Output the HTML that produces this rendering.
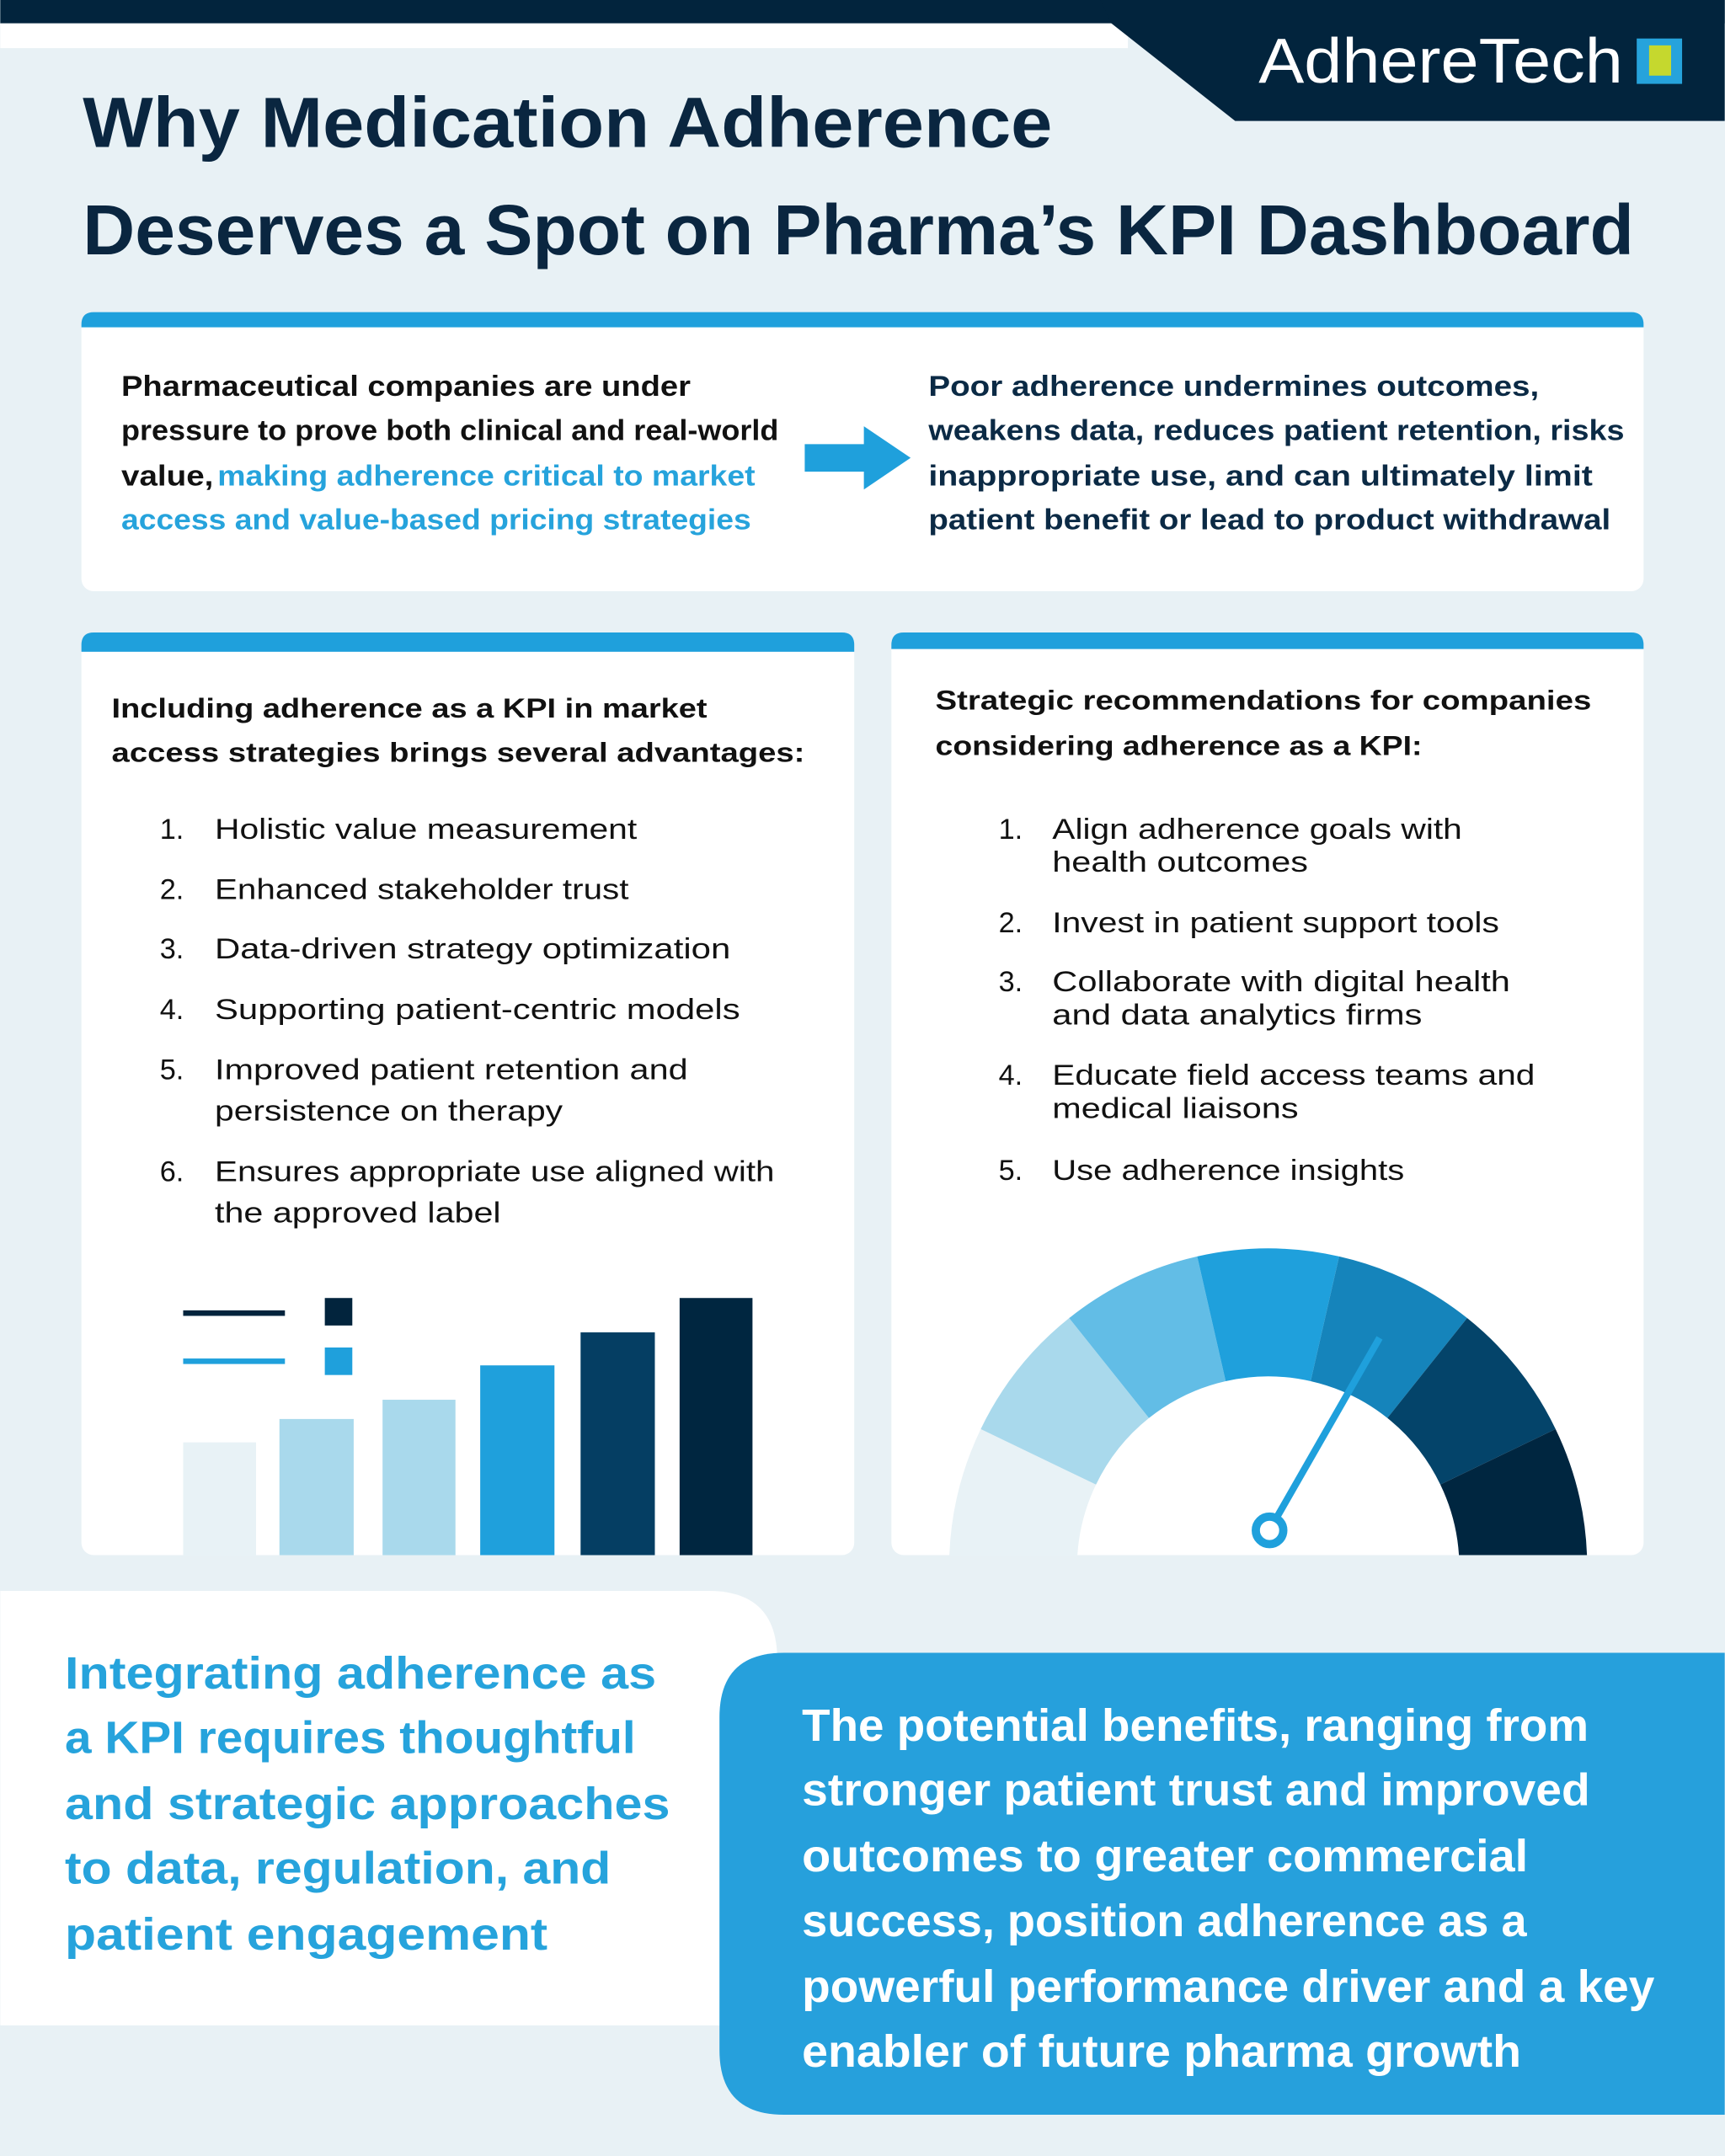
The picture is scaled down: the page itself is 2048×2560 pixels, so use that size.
<!DOCTYPE html>
<html><head><meta charset="utf-8"><style>
html,body{margin:0;padding:0;background:#e8f1f5}
svg{display:block}
text{font-family:"Liberation Sans",Arial,sans-serif}
.t{font-weight:bold;font-size:52px;fill:#0a2640}
.b{font-weight:bold;font-size:21px;fill:#111}
.bb{font-weight:bold;font-size:21px;fill:#0b2a45}
.bl{font-weight:bold;font-size:21px;fill:#26a3dc}
.h{font-weight:bold;font-size:20px;fill:#111}
.l{font-size:21px;fill:#111}
.big{font-weight:bold;font-size:33px}
</style></head><body>
<svg width="2048" height="2560" viewBox="0 0 1254 1568" xmlns="http://www.w3.org/2000/svg">
<rect width="1254" height="1568" fill="#e8f1f5"/>
<rect x="0" y="0" width="1254" height="17" fill="#02243d"/>
<rect x="0" y="17" width="820" height="18" fill="#ffffff"/>
<polygon points="808,17 898,88 1254,88 1254,0 800,0" fill="#02243d"/>
<text x="915" y="60" font-size="46" fill="#fff" textLength="265" lengthAdjust="spacingAndGlyphs">AdhereTech</text>
<rect x="1190" y="28" width="33" height="33" fill="#26a3dc"/>
<rect x="1199" y="33" width="16" height="22" fill="#c5d82e"/>

<text class="t" x="60" y="107" textLength="705" lengthAdjust="spacingAndGlyphs">Why Medication Adherence</text>
<text class="t" x="60" y="185" textLength="1128" lengthAdjust="spacingAndGlyphs">Deserves a Spot on Pharma’s KPI Dashboard</text>

<!-- card 1 -->
<rect x="59" y="227" width="1136" height="203" rx="9" fill="#fff"/>
<path d="M59 238 V236 Q59 227 68 227 H1186 Q1195 227 1195 236 V238 Z" fill="#1fa0dc"/>
<text class="b" x="88" y="288" textLength="414" lengthAdjust="spacingAndGlyphs">Pharmaceutical companies are under</text>
<text class="b" x="88" y="320" textLength="478" lengthAdjust="spacingAndGlyphs">pressure to prove both clinical and real-world</text>
<text class="b" x="88" y="353" textLength="67" lengthAdjust="spacingAndGlyphs">value,</text>
<text class="bl" x="158" y="353" textLength="391" lengthAdjust="spacingAndGlyphs">making adherence critical to market</text>
<text class="bl" x="88" y="385" textLength="458" lengthAdjust="spacingAndGlyphs">access and value-based pricing strategies</text>
<polygon points="585,323 628,323 628,310 662,333 628,356 628,343 585,343" fill="#1fa0dc"/>
<text class="bb" x="675" y="288" textLength="444" lengthAdjust="spacingAndGlyphs">Poor adherence undermines outcomes,</text>
<text class="bb" x="675" y="320" textLength="506" lengthAdjust="spacingAndGlyphs">weakens data, reduces patient retention, risks</text>
<text class="bb" x="675" y="353" textLength="483" lengthAdjust="spacingAndGlyphs">inappropriate use, and can ultimately limit</text>
<text class="bb" x="675" y="385" textLength="496" lengthAdjust="spacingAndGlyphs">patient benefit or lead to product withdrawal</text>

<!-- card 2 -->
<rect x="59" y="460" width="562" height="671" rx="9" fill="#fff"/>
<path d="M59 474 V469 Q59 460 68 460 H612 Q621 460 621 469 V474 Z" fill="#1fa0dc"/>
<text class="h" x="81" y="522" textLength="433" lengthAdjust="spacingAndGlyphs">Including adherence as a KPI in market</text>
<text class="h" x="81" y="554" textLength="504" lengthAdjust="spacingAndGlyphs">access strategies brings several advantages:</text>
<g class="l">
<text class="l" x="116" y="610">1.</text><text class="l" x="156" y="610" textLength="307" lengthAdjust="spacingAndGlyphs">Holistic value measurement</text>
<text class="l" x="116" y="654">2.</text><text class="l" x="156" y="654" textLength="301" lengthAdjust="spacingAndGlyphs">Enhanced stakeholder trust</text>
<text class="l" x="116" y="697">3.</text><text class="l" x="156" y="697" textLength="375" lengthAdjust="spacingAndGlyphs">Data-driven strategy optimization</text>
<text class="l" x="116" y="741">4.</text><text class="l" x="156" y="741" textLength="382" lengthAdjust="spacingAndGlyphs">Supporting patient-centric models</text>
<text class="l" x="116" y="785">5.</text><text class="l" x="156" y="785" textLength="344" lengthAdjust="spacingAndGlyphs">Improved patient retention and</text>
<text class="l" x="156" y="815" textLength="253" lengthAdjust="spacingAndGlyphs">persistence on therapy</text>
<text class="l" x="116" y="859">6.</text><text class="l" x="156" y="859" textLength="407" lengthAdjust="spacingAndGlyphs">Ensures appropriate use aligned with</text>
<text class="l" x="156" y="889" textLength="208" lengthAdjust="spacingAndGlyphs">the approved label</text>
</g>
<rect x="133" y="953" width="74" height="4" fill="#02243d"/>
<rect x="133" y="988" width="74" height="4" fill="#1fa0dc"/>
<rect x="236" y="944" width="20" height="20" fill="#02243d"/>
<rect x="236" y="980" width="20" height="20" fill="#1fa0dc"/>
<rect x="133" y="1049" width="53" height="82" fill="#e8f2f6"/>
<rect x="203" y="1032" width="54" height="99" fill="#a9d9ec"/>
<rect x="278" y="1018" width="53" height="113" fill="#a9d9ec"/>
<rect x="349" y="993" width="54" height="138" fill="#1fa0dc"/>
<rect x="422" y="969" width="54" height="162" fill="#053e63"/>
<rect x="494" y="944" width="53" height="187" fill="#002640"/>

<!-- card 3 -->
<rect x="648" y="460" width="547" height="671" rx="9" fill="#fff"/>
<path d="M648 472 V469 Q648 460 657 460 H1186 Q1195 460 1195 469 V472 Z" fill="#1fa0dc"/>
<text class="h" x="680" y="516" textLength="477" lengthAdjust="spacingAndGlyphs">Strategic recommendations for companies</text>
<text class="h" x="680" y="549" textLength="354" lengthAdjust="spacingAndGlyphs">considering adherence as a KPI:</text>
<text class="l" x="726" y="610">1.</text><text class="l" x="765" y="610" textLength="298" lengthAdjust="spacingAndGlyphs">Align adherence goals with</text>
<text class="l" x="765" y="634" textLength="186" lengthAdjust="spacingAndGlyphs">health outcomes</text>
<text class="l" x="726" y="678">2.</text><text class="l" x="765" y="678" textLength="325" lengthAdjust="spacingAndGlyphs">Invest in patient support tools</text>
<text class="l" x="726" y="721">3.</text><text class="l" x="765" y="721" textLength="333" lengthAdjust="spacingAndGlyphs">Collaborate with digital health</text>
<text class="l" x="765" y="745" textLength="269" lengthAdjust="spacingAndGlyphs">and data analytics firms</text>
<text class="l" x="726" y="789">4.</text><text class="l" x="765" y="789" textLength="351" lengthAdjust="spacingAndGlyphs">Educate field access teams and</text>
<text class="l" x="765" y="813" textLength="179" lengthAdjust="spacingAndGlyphs">medical liaisons</text>
<text class="l" x="726" y="858">5.</text><text class="l" x="765" y="858" textLength="256" lengthAdjust="spacingAndGlyphs">Use adherence insights</text>

<defs><clipPath id="gc"><rect x="600" y="880" width="650" height="251"/></clipPath></defs>
<g clip-path="url(#gc)">
<path d="M690 1140 A232 232 0 0 1 713 1039.3 L796.8 1079.7 A139 139 0 0 0 783 1140 Z" fill="#e8f2f6"/>
<path d="M713 1039.3 A232 232 0 0 1 777.3 958.6 L835.3 1031.3 A139 139 0 0 0 796.8 1079.7 Z" fill="#a9d9ec"/>
<path d="M777.3 958.6 A232 232 0 0 1 870.4 913.8 L891.1 1004.5 A139 139 0 0 0 835.3 1031.3 Z" fill="#62bde6"/>
<path d="M870.4 913.8 A232 232 0 0 1 973.6 913.8 L952.9 1004.5 A139 139 0 0 0 891.1 1004.5 Z" fill="#1fa0dc"/>
<path d="M973.6 913.8 A232 232 0 0 1 1066.7 958.6 L1008.7 1031.3 A139 139 0 0 0 952.9 1004.5 Z" fill="#1584bb"/>
<path d="M1066.7 958.6 A232 232 0 0 1 1131 1039.3 L1047.2 1079.7 A139 139 0 0 0 1008.7 1031.3 Z" fill="#04446a"/>
<path d="M1131 1039.3 A232 232 0 0 1 1154 1140 L1061 1140 A139 139 0 0 0 1047.2 1079.7 Z" fill="#002640"/>
</g>
<line x1="928" y1="1104" x2="1003" y2="973" stroke="#1fa0dc" stroke-width="5"/>
<circle cx="923" cy="1113" r="10" fill="#fff" stroke="#1fa0dc" stroke-width="6"/>

<!-- bottom -->
<path d="M0 1157 H515 Q565 1157 565 1207 V1473 H0 Z" fill="#fff"/>
<g class="big" fill="#26a3dc">
<text class="big" fill="#26a3dc" x="47" y="1228" textLength="430" lengthAdjust="spacingAndGlyphs">Integrating adherence as</text>
<text class="big" fill="#26a3dc" x="47" y="1275" textLength="415" lengthAdjust="spacingAndGlyphs">a KPI requires thoughtful</text>
<text class="big" fill="#26a3dc" x="47" y="1323" textLength="440" lengthAdjust="spacingAndGlyphs">and strategic approaches</text>
<text class="big" fill="#26a3dc" x="47" y="1370" textLength="397" lengthAdjust="spacingAndGlyphs">to data, regulation, and</text>
<text class="big" fill="#26a3dc" x="47" y="1418" textLength="351" lengthAdjust="spacingAndGlyphs">patient engagement</text>
</g>
<path d="M570 1202 H1254 V1538 H570 Q523 1538 523 1491 V1249 Q523 1202 570 1202 Z" fill="#26a0dc"/>
<text class="big" fill="#fff" x="583" y="1266" textLength="572" lengthAdjust="spacingAndGlyphs">The potential benefits, ranging from</text>
<text class="big" fill="#fff" x="583" y="1313" textLength="573" lengthAdjust="spacingAndGlyphs">stronger patient trust and improved</text>
<text class="big" fill="#fff" x="583" y="1361" textLength="528" lengthAdjust="spacingAndGlyphs">outcomes to greater commercial</text>
<text class="big" fill="#fff" x="583" y="1408" textLength="527" lengthAdjust="spacingAndGlyphs">success, position adherence as a</text>
<text class="big" fill="#fff" x="583" y="1456" textLength="620" lengthAdjust="spacingAndGlyphs">powerful performance driver and a key</text>
<text class="big" fill="#fff" x="583" y="1503" textLength="523" lengthAdjust="spacingAndGlyphs">enabler of future pharma growth</text>
</svg>
</body></html>
